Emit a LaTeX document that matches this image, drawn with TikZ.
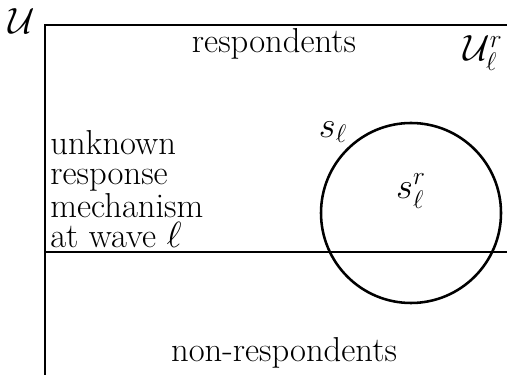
\documentclass[tikz,border=0pt]{standalone}
\usepackage{amsmath,amssymb}
\usepackage{tikz}
\usetikzlibrary{positioning}

\begin{document}
\begin{tikzpicture}[
    frame/.style={line width=1.45pt, black},
    lbl/.style={font=\fontsize{19.7}{17.2}\selectfont, inner sep=0pt},
    note/.style={lbl, align=left, anchor=west}
]
    % ---- canvas (the population box runs off the right and bottom) ----
    \useasboundingbox (0,0) rectangle (10.14,7.48);
    \clip (0,0) rectangle (10.14,7.48);

    % population frame and response split
    \coordinate (tl) at (0.9,6.98);
    \coordinate (tr) at (10.4,6.98);
    \coordinate (bl) at (0.9,-0.3);
    \coordinate (ml) at (0.9,2.44);
    \coordinate (mr) at (10.4,2.44);
    \draw[frame] (bl) -- (tl) -- (tr);
    \draw[frame] (ml) -- (mr);

    % sample at wave l
    \node[circle, draw, line width=1.45pt, minimum size=3.6cm, inner sep=0pt] (samp) at (8.22,3.22) {};

    % ---- labels ----
    \node[lbl] (U) at (0.44,7.06) {$\mathcal{U}$};
    \node[lbl] (resp) at (5.48,6.6) {respondents};
    \node[lbl] (Ur) at (9.66,6.42) {$\mathcal{U}_\ell^r$};
    \node[lbl] (sl) at (6.66,4.84) {$s_\ell$};
    \node[lbl] (slr) at (8.22,3.66) {$s_\ell^r$};
    \node[note] (mech) at (1.0,3.7) {unknown\\response\\mechanism\\at wave $\ell$};
    \node[lbl] (nonresp) at (5.68,0.42) {non-respondents};
\end{tikzpicture}
\end{document}
